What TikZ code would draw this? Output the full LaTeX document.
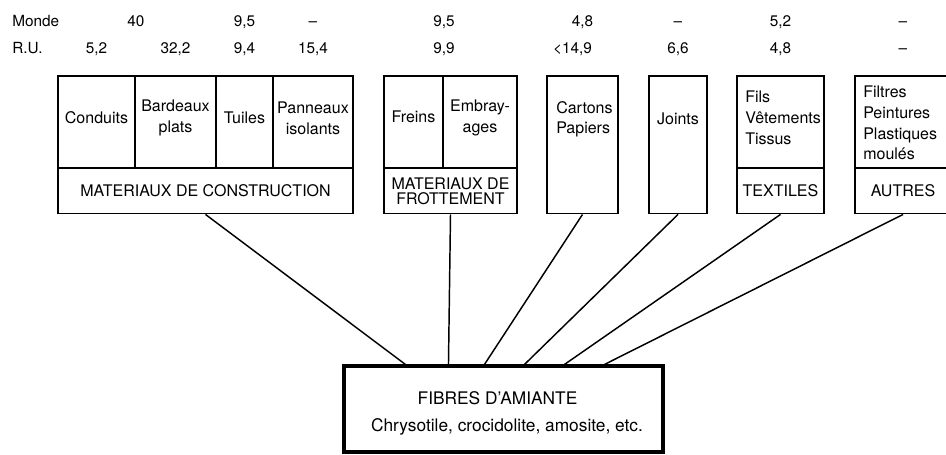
\documentclass[tikz,border=0pt]{standalone}
\usepackage{fontspec}
\setmainfont{TeX Gyre Heros}
\usetikzlibrary{positioning, calc}
\newcommand\numfont{\fontsize{11.5}{13}\selectfont}
\newcommand\boxfont{\fontsize{12}{15.5}\selectfont}
\newcommand\fibfont{\fontsize{13}{15}\selectfont}

\begin{document}
\begin{tikzpicture}[x=0.75pt, y=-0.75pt,
    every node/.style={inner sep=0pt, font=\boxfont},
    cell/.style 2 args={draw, line width=1.4pt, minimum width=#1*0.75pt, minimum height=#2*0.75pt},
    num/.style={font=\numfont, anchor=base},
    link/.style={line width=1.1pt}]
  \useasboundingbox (0,0) rectangle (946,454);

  % boxes
  \node[cell={77}{92.5}] (cond) at (96.5,122) {};
  \node[cell={81}{92.5}] (bard) at (175.5,122) {};
  \node[cell={57}{92.5}] (tuil) at (244.5,122) {};
  \node[cell={80}{92.5}] (pann) at (313,122) {};
  \node[cell={295}{45}] (constr) at (205.5,191) {MATERIAUX DE CONSTRUCTION};
  \node[cell={59}{92.5}] (frein) at (413.5,122) {};
  \node[cell={74}{92.5}] (embr) at (480,122) {};
  \node[cell={133}{45}, align=center] (frot) at (450.5,191) {MATERIAUX DE\\[-4pt]FROTTEMENT};
  \node[cell={71}{137.5}] (cart) at (582.5,144.75) {};
  \node[cell={58}{137.5}] (joint) at (678,144.75) {};
  \node[cell={87}{92.5}] (fils) at (780.5,122) {};
  \node[cell={87}{45}] (textil) at (780.5,191) {TEXTILES};
  \node[cell={96}{92.5}] (divers) at (903,122) {};
  \node[cell={96}{45}] (autres) at (903,191) {AUTRES};

  % box texts
  \node (tcond) at (cond |- 0,118) {Conduits};
  \node[align=center] (tbard) at (bard |- 0,118) {Bardeaux\\plats};
  \node (ttuil) at (tuil |- 0,118) {Tuiles};
  \node[align=center] (tpann) at (pann |- 0,118) {Panneaux\\isolants};
  \node (tfrein) at (frein |- 0,117) {Freins};
  \node[align=center] (tembr) at (embr |- 0,118) {Embray-\\ages};
  \node[align=left, anchor=north west] (tcart) at (556,101) {Cartons\\Papiers};
  \node (tjoint) at (joint |- 0,119) {Joints};
  \node[align=left, anchor=north west] (tfils) at (745,91) {Fils\\Vêtements\\Tissus};
  \node[align=left, anchor=north west] (tdivers) at (863,86) {Filtres\\Peintures\\Plastiques\\moulés};

  % table of figures
  \node[num, anchor=base west] (monde) at (12,26) {Monde};
  \node[num, anchor=base west] (ru) at (12,53) {R.U.};
  \node[num] (m1) at (cond.east |- monde.base) {40};
  \node[num] (m2) at (tuil |- monde.base) {9,5};
  \node[num] (m3) at (pann |- monde.base) {--};
  \node[num] (m4) at (frein.east |- monde.base) {9,5};
  \node[num] (m5) at (cart |- monde.base) {4,8};
  \node[num] (m6) at (joint |- monde.base) {--};
  \node[num] (m7) at (fils |- monde.base) {5,2};
  \node[num] (m8) at (divers |- monde.base) {--};
  \node[num] (r1) at (cond |- ru.base) {5,2};
  \node[num] (r2) at (bard |- ru.base) {32,2};
  \node[num] (r3) at (tuil |- ru.base) {9,4};
  \node[num] (r4) at (pann |- ru.base) {15,4};
  \node[num] (r5) at (frein.east |- ru.base) {9,9};
  \node[num, xshift=-7.5pt] (r6) at (cart |- ru.base) {<14,9};
  \node[num] (r7) at (joint |- ru.base) {6,6};
  \node[num] (r8) at (fils |- ru.base) {4,8};
  \node[num] (r9) at (divers |- ru.base) {--};

  % asbestos box
  \node[cell={319}{86}, line width=2.3pt] (fib) at (503.5,409) {};
  \node[font=\fibfont] (fibtitle) at (497.5,398) {FIBRES D'AMIANTE};
  \node[font=\fibfont] (fibsub) at (507,427) {Chrysotile, crocidolite, amosite, etc.};

  \foreach \src/\dx in {constr/63, frot/106, cart/142, joint/182, textil/222, autres/262} {
    \coordinate (\src-end) at ($(fib.north west)+(\dx,0)$);
    \draw[link] (\src.south) -- (\src-end);
  }
\end{tikzpicture}
\end{document}
